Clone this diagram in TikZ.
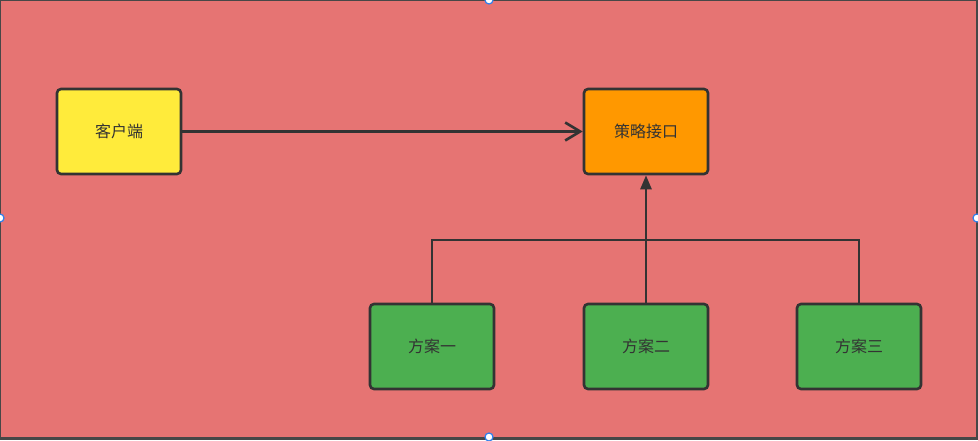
\documentclass[tikz,border=0pt]{standalone}
\usepackage{fontspec}
\usepackage{tikz}
\usetikzlibrary{arrows.meta,positioning}
\newfontfamily\cjk{Noto Sans CJK SC}
\definecolor{canvasbg}{HTML}{E67473}
\definecolor{edge}{HTML}{333333}
\definecolor{clientfill}{HTML}{FFEB3B}
\definecolor{ifacefill}{HTML}{FF9800}
\definecolor{planfill}{HTML}{4CAF50}
\definecolor{handle}{HTML}{2F80ED}
\tikzset{
  block/.style={
    draw=edge,
    line width=2.6pt,
    rounded corners=4pt,
    minimum width=124pt,
    minimum height=85pt,
    inner sep=0pt,
    text=edge,
    font=\cjk\fontsize{16pt}{18pt}\selectfont
  },
  client/.style={block, fill=clientfill},
  iface/.style={block, fill=ifacefill},
  plan/.style={block, fill=planfill},
  link/.style={
    draw=edge,
    line width=2.6pt
  },
  grip/.style={
    draw=handle,
    fill=white,
    line width=1.2pt
  }
}
\begin{document}
\begin{tikzpicture}[x=1pt,y=-1pt]
  \useasboundingbox (0,0) rectangle (978,440);
  \fill[edge!90] (0,0) rectangle (978,440);
  \fill[canvasbg] (1,1) rectangle (976,437);

  \node[client] (client) at (119,131.5) {客户端};
  \node[iface] (iface) at (646,131.5) {策略接口};
  \node[plan] (planA) at (432,346.5) {方案一};
  \node[plan] (planB) at (646,346.5) {方案二};
  \node[plan] (planC) at (859,346.5) {方案三};

  \coordinate (joint) at (646,240);

  \draw[link, -{Straight Barb[length=15pt,width=18pt]}] (client) -- (iface);
  \draw[link, -{Triangle[length=14pt,width=11pt]}] (planB) -- (iface);
  \draw[link] (planA) |- (joint);
  \draw[link] (planC) |- (joint);

  %\draw[link] (joint) -- (planB);
  \draw[grip] (489,0) circle (4);
  \draw[grip] (0,218) circle (4);
  \draw[grip] (977,218) circle (4);
  \draw[grip] (489,437) circle (4);
\end{tikzpicture}
\end{document}
